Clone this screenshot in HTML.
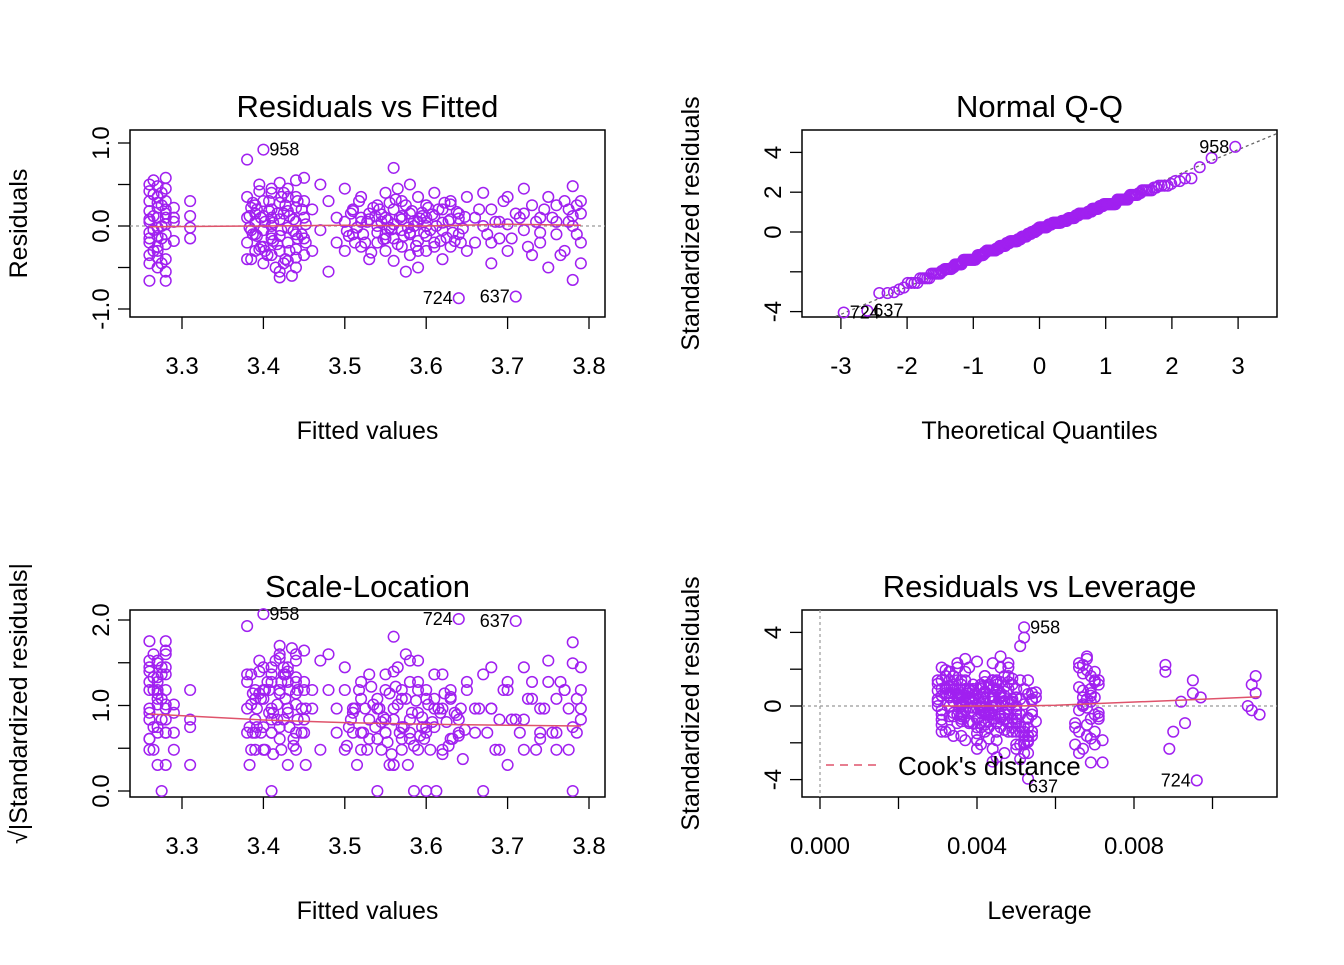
<!DOCTYPE html>
<html><head><meta charset="utf-8"><style>
body{margin:0;background:#fff}
svg text{font-family:"Liberation Sans",Arial,sans-serif;fill:#000}
</style></head><body>
<svg id="c" width="1344" height="960" viewBox="0 0 1344 960" xmlns="http://www.w3.org/2000/svg"></svg>
<script>
// ---- data: clusters of fitted values, residuals, leverage (x1e-4)
const fittedA=[3.26,3.26,3.26,3.26,3.26,3.26,3.26,3.26,3.26,3.26,3.27,3.27,3.27,3.27,3.27,3.27,3.27,3.27,3.27,3.27,3.28,3.28,3.28,3.28,3.28,3.28,3.28,3.28,3.28,3.28];
const residA=[0.5,0.42,0.3,0.18,0.05,-0.08,-0.2,-0.35,-0.45,-0.66,0.48,0.35,0.22,0.1,-0.02,-0.12,-0.25,-0.38,-0.5,0.28,0.58,0.45,0.3,0.15,0.02,-0.1,-0.22,-0.4,-0.55,-0.66];
const levA=[66,68,70,67,69,71,65,68,70,72,67,69,66,70,68,71,65,69,67,70,68,66,71,69,67,70,68,72,66,69];
const fittedA2=[3.265,3.265,3.265,3.265,3.265,3.275,3.275,3.275,3.275,3.275,3.26,3.27,3.28,3.26,3.28];
const residA2=[0.38,0.12,-0.05,-0.3,0.55,0.25,0.0,-0.15,-0.45,0.4,0.08,-0.3,0.2,-0.15,0.1];
const levA2=[67,69,66,70,68,71,67,69,65,70,68,66,69,71,67];
const fittedB=[3.29,3.29,3.29,3.29,3.31,3.31,3.31,3.31];
const residB=[0.22,0.1,-0.18,0.05,0.3,0.12,-0.15,-0.02];
const levB=[33,38,42,47,36,44,50,40];
const fittedC=[3.38,3.38,3.38,3.38,3.38,3.39,3.39,3.39,3.39,3.39,3.40,3.40,3.40,3.40,3.40,3.40,3.41,3.41,3.41,3.41,3.41,3.41,3.42,3.42,3.42,3.42,3.42,3.42,3.42,3.43,3.43,3.43,3.43,3.43,3.43,3.44,3.44,3.44,3.44,3.44,3.44,3.45,3.45,3.45,3.45,3.45,3.425,3.415,3.395,3.385,3.435,3.405];
const residC=[0.35,0.1,-0.2,-0.4,0.8,0.25,0.05,-0.1,-0.3,0.15,0.92,0.3,0.12,-0.05,-0.25,-0.45,0.4,0.2,0.0,-0.15,-0.35,0.1,0.52,0.28,0.08,-0.12,-0.3,-0.55,-0.62,0.35,0.18,-0.02,-0.2,-0.42,0.45,0.55,0.22,0.05,-0.1,-0.28,-0.5,0.58,0.3,0.1,-0.15,-0.35,0.15,-0.5,0.42,-0.05,-0.6,-0.35];
const levC=[32,36,41,45,52,34,39,43,48,54,52,31,37,42,46,50,33,38,44,49,53,35,40,45,30,36,42,47,51,34,39,44,48,53,31,37,43,49,54,33,40,46,35,41,47,52,38,44,32,50,45,36];
const fittedH=[3.383,3.387,3.392,3.397,3.402,3.407,3.412,3.417,3.422,3.427,3.432,3.437,3.442,3.447,3.452,3.385,3.395,3.41,3.425,3.44,3.383,3.387,3.392,3.397,3.402,3.407,3.412,3.417,3.422,3.427,3.432,3.437,3.442,3.447,3.452,3.385,3.395,3.41,3.425,3.44];
const residH=[0.12,-0.1,0.2,-0.25,0.05,0.3,-0.18,0.15,-0.05,0.25,-0.3,0.08,-0.15,0.2,0.02,-0.4,0.5,0.45,-0.45,0.35,-0.02,0.28,-0.12,0.1,-0.3,0.18,0.04,-0.22,0.35,-0.4,0.12,-0.06,0.3,-0.1,-0.2,0.22,-0.28,-0.1,0.4,-0.38];
const levH=[31,35,39,43,47,51,55,33,37,41,45,49,53,32,36,40,44,48,52,34,38,42,46,50,54,30,36,42,48,53,33,39,45,51,35,41,47,31,37,43];
const fittedD=[3.46,3.47,3.47,3.48,3.48,3.49,3.49,3.5,3.5,3.46];
const residD=[0.2,-0.05,0.5,0.3,-0.55,0.1,-0.2,0.45,-0.3,-0.3];
const levD=[34,41,48,37,52,44,39,46,31,50];
const fittedE=[3.51,3.51,3.52,3.52,3.52,3.53,3.53,3.54,3.54,3.54,3.55,3.55,3.55,3.55,3.56,3.56,3.56,3.56,3.56,3.57,3.57,3.57,3.57,3.58,3.58,3.58,3.58,3.59,3.59,3.59,3.59,3.6,3.6,3.6,3.6,3.61,3.61,3.61,3.62,3.62,3.62,3.63,3.63,3.63,3.64,3.64,3.64,3.65,3.65,3.565,3.575,3.545,3.585,3.595,3.555];
const residE=[0.2,-0.1,0.35,0.05,-0.25,0.15,-0.4,0.25,0.0,-0.2,0.4,0.1,-0.1,-0.3,0.7,0.2,0.02,-0.15,-0.42,0.3,0.08,-0.05,-0.25,0.5,0.15,-0.08,-0.35,0.35,0.05,-0.18,-0.5,0.25,0.0,-0.12,-0.3,0.4,0.12,-0.2,0.2,-0.05,-0.4,0.3,0.08,-0.25,-0.87,0.15,-0.1,0.35,-0.3,0.45,-0.55,0.05,0.0,0.12,-0.02];
const levE=[31,36,42,47,53,34,40,45,50,38,33,43,48,54,51,37,41,46,52,30,39,44,49,35,42,47,53,32,38,43,50,36,41,46,52,33,39,45,48,31,37,44,51,40,96,46,35,42,49,38,53,44,36,47,41];
const fittedG=[3.500,3.505,3.510,3.515,3.520,3.525,3.530,3.535,3.540,3.545,3.550,3.555,3.560,3.565,3.570,3.575,3.580,3.585,3.590,3.595,3.600,3.605,3.610,3.615,3.620,3.625,3.630,3.635,3.640,3.645,3.5025,3.5075,3.5125,3.5175,3.5225,3.5275,3.5325,3.5375,3.5425,3.5475,3.5525,3.5575,3.5625,3.5675,3.5725,3.5775,3.5825,3.5875,3.5925,3.5975,3.6025,3.6075,3.6125,3.6175,3.6225,3.6275,3.6325,3.6375,3.6425,3.6475];
const residG=[0.05,-0.12,0.18,-0.02,0.1,-0.2,0.08,0.22,-0.08,0.14,-0.15,0.28,0.02,-0.22,0.12,0.25,-0.1,0.06,-0.3,0.16,0.1,-0.05,-0.25,0.2,0.04,-0.14,0.26,-0.18,0.09,-0.03,-0.06,0.15,-0.2,0.3,-0.1,0.05,-0.32,0.12,0.2,-0.16,0.07,-0.04,0.32,0.1,-0.12,-0.02,0.18,-0.24,0.09,-0.08,0.22,0.14,0.0,-0.18,0.28,0.06,-0.08,0.17,-0.2,0.11];
const levG=[30,34,38,42,46,50,54,32,36,40,44,48,52,31,35,39,43,47,51,55,33,37,41,45,49,53,30,36,42,48,54,32,38,44,50,34,40,46,52,31,37,43,49,55,33,39,45,51,35,41,47,53,30,38,46,54,34,42,50,36];
const fittedF=[3.66,3.66,3.67,3.67,3.68,3.68,3.69,3.69,3.7,3.7,3.71,3.71,3.72,3.72,3.73,3.73,3.74,3.74,3.75,3.75,3.76,3.76,3.77,3.77,3.78,3.78,3.78,3.79,3.79,3.79,3.785,3.775];
const residF=[0.1,-0.2,0.4,0.0,0.2,-0.45,0.05,-0.15,0.35,-0.3,-0.85,0.15,0.45,-0.05,0.25,-0.35,0.1,-0.2,0.35,-0.5,0.05,-0.1,0.3,-0.3,0.48,0.0,-0.65,0.15,-0.2,-0.45,0.25,0.05];
const levF=[38,45,88,33,50,41,92,36,47,90,53,95,35,110,43,54,97,39,111,89,46,112,95,32,88,109,44,111,93,51,110,37];
const fittedF2=[3.665,3.675,3.685,3.695,3.705,3.715,3.725,3.735,3.745,3.755,3.765,3.775,3.785,3.79,3.68,3.7,3.72,3.74,3.76,3.78];
const residF2=[0.2,-0.1,0.05,0.3,-0.15,0.1,-0.25,0.05,0.2,0.1,-0.35,0.2,-0.1,0.3,-0.2,0.02,0.15,-0.08,0.25,0.12];
const levF2=[35,42,48,33,40,46,52,37,44,50,34,41,47,53,38,45,36,43,49,31];
const extremeNames=['958','724','637'];
const resScale=0.215; // residual standard error
// smoother curves
const smooth1X=[3.26,3.4,3.5,3.6,3.7,3.79], smooth1Y=[-0.01,0.0,0.01,0.0,0.02,0.01];
const smooth3X=[3.26,3.4,3.5,3.6,3.7,3.79], smooth3Y=[0.9,0.83,0.8,0.78,0.77,0.76];
const smooth4X=[0.0031,0.004,0.005,0.006,0.007,0.009,0.0112], smooth4Y=[0,0,0,0.04,0.13,0.3,0.5];
const xTicks1=[3.3,3.4,3.5,3.6,3.7,3.8];
const xTicks2=[-3,-2,-1,0,1,2,3];
const xTicks4=[0,0.002,0.004,0.006,0.008,0.010];
const xLabels4=['0.000','','0.004','','0.008',''];

const fitted=[].concat(fittedA,fittedA2,fittedB,fittedC,fittedH,fittedD,fittedE,fittedG,fittedF,fittedF2);
const resid=[].concat(residA,residA2,residB,residC,residH,residD,residE,residG,residF,residF2);
const lev=[].concat(levA,levA2,levB,levC,levH,levD,levE,levG,levF,levF2).map(v=>v/10000);
const std=resid.map(r=>r/resScale);
const n=fitted.length;

const svg=document.getElementById('c');
const NS='http://www.w3.org/2000/svg';
function el(tag,attrs,parent){const e=document.createElementNS(NS,tag);for(const k in attrs)e.setAttribute(k,attrs[k]);(parent||svg).appendChild(e);return e;}
function txt(s,x,y,size,anchor,rot,parent){const t=el('text',{x:x,y:y,'font-size':size,'text-anchor':anchor||'middle'},parent);if(rot)t.setAttribute('transform','rotate(-90 '+x+' '+y+')');t.textContent=s;return t;}
const PURPLE='#A020F0';

const order=[...Array(n).keys()].sort((a,b)=>Math.abs(resid[b])-Math.abs(resid[a]));
const labelOf={};extremeNames.forEach((nm,i)=>labelOf[order[i]]=nm);

function panel(name,box,title,xlab,ylab,xs,ys,yTicks,yLabels,xTicks,xLabels){
  const g=el('g',{});
  
  
  const r=el('rect',{x:box[0],y:box[1],width:box[2]-box[0],height:box[3]-box[1],fill:'none',stroke:'#000','stroke-width':1.5},g);
  
  const t=txt(title,(box[0]+box[2])/2,box[1]-13,31,'middle',false,g);
  
  const xl=txt(xlab,(box[0]+box[2])/2,box[3]+122,25,'middle',false,g);
  
  const yl=txt(ylab,box[0]-103,(box[1]+box[3])/2,25,'middle',true,g);
  
  const ya=el('g',{},g);
  yTicks.forEach((v,i)=>{const p=ys(v);el('line',{x1:box[0],x2:box[0]-12,y1:p,y2:p,stroke:'#000','stroke-width':1.3},ya);
    if(yLabels[i]){const tl=txt(yLabels[i],box[0]-21,p,24,'middle',true,ya);}});
  const xa=el('g',{},g);
  xTicks.forEach((v,i)=>{const p=xs(v);el('line',{x1:p,x2:p,y1:box[3],y2:box[3]+12,stroke:'#000','stroke-width':1.3},xa);
    if(xLabels[i]){const tl=txt(xLabels[i],p,box[3]+57,24,'middle',false,xa);}});
  return g;
}
function points(g,X,Y,xs,ys,name){
  const pg=el('g',{},g);
  X.forEach((v,i)=>{const c=el('circle',{cx:xs(v),cy:ys(Y[i]),r:5.3,fill:'none',stroke:PURPLE,'stroke-width':1.5},pg);
    });
}
function labels(g,X,Y,xs,ys,mid,idxs){
  idxs.forEach(i=>{const px=xs(X[i]),py=ys(Y[i]);const right=px<mid;
    const t=txt(labelOf[i],right?px+6:px-6,py+6,18,right?'start':'end',false,g);
    });
}
function curve(g,X,Y,xs,ys,name,color,dash){
  const d=X.map((v,i)=>(i?'L':'M')+xs(v).toFixed(1)+','+ys(Y[i]).toFixed(1)).join(' ');
  const p=el('path',{d:d,fill:'none',stroke:color,'stroke-width':1.5},g);
  if(dash)p.setAttribute('stroke-dasharray',dash);
  
}
const extremeIdx=order.slice(0,3);

// Panel 1
{const box=[130,130,605,317];const xs=v=>182+(v-3.3)*814,ys=v=>226-v*83;
 const g=panel('residuals-vs-fitted',box,'Residuals vs Fitted','Fitted values','Residuals',xs,ys,[1,0.5,0,-0.5,-1],['1.0','','0.0','','-1.0'],xTicks1,xTicks1.map(v=>v.toFixed(1)));
 const z=el('line',{x1:box[0],x2:box[2],y1:ys(0),y2:ys(0),stroke:'#999','stroke-dasharray':'3,3','stroke-width':1.2},g);
 
 points(g,fitted,resid,xs,ys,'residual-points');
 curve(g,smooth1X,smooth1Y,xs,ys,'smoother-line','#DF536B');
 labels(g,fitted,resid,xs,ys,300,extremeIdx);}

// Panel 2 QQ
function erf(x){const s=x<0?-1:1;x=Math.abs(x);const t=1/(1+0.3275911*x);const y=1-(((((1.061405429*t-1.453152027)*t)+1.421413741)*t-0.284496736)*t+0.254829592)*t*Math.exp(-x*x);return s*y;}
function pnorm(z){return 0.5*(1+erf(z/Math.SQRT2));}
function qnorm(p){let lo=-8,hi=8;for(let k=0;k<60;k++){const m=(lo+hi)/2;if(pnorm(m)<p)lo=m;else hi=m;}return (lo+hi)/2;}
{const box=[802,130,1277,317];const xs=v=>1039.5+v*66.2,ys=v=>232-v*19.9;
 const g=panel('normal-qq',box,'Normal Q-Q','Theoretical Quantiles','Standardized residuals',xs,ys,[4,2,0,-2,-4],['4','2','0','','-4'],xTicks2,xTicks2.map(String));
 const idx=[...Array(n).keys()].sort((a,b)=>std[a]-std[b]);
 const q=idx.map((_,k)=>qnorm((k+0.5)/n));const sv=idx.map(i=>std[i]);
 const q1=sv[Math.floor(0.25*n)],q3=sv[Math.floor(0.75*n)],z1=qnorm(0.25),z3=qnorm(0.75);
 const sl=(q3-q1)/(z3-z1),ic=q1-sl*z1;
 const clip=el('clipPath',{id:'qqclip'},g);el('rect',{x:box[0],y:box[1],width:box[2]-box[0],height:box[3]-box[1]},clip);
 const ln=el('line',{x1:xs(-4),y1:ys(ic-4*sl),x2:xs(4),y2:ys(ic+4*sl),stroke:'#666','stroke-dasharray':'3,3','stroke-width':1.3,'clip-path':'url(#qqclip)'},g);
 
 points(g,q,sv,xs,ys,'qq-points');
 const pos={};idx.forEach((i,k)=>pos[i]=k);
 extremeIdx.forEach(i=>{const k=pos[i];const px=xs(q[k]),py=ys(sv[k]);const right=px<1040;
   const t=txt(labelOf[i],right?px+6:px-6,py+6,18,right?'start':'end',false,g);
   });}

// Panel 3 Scale-Location
{const box=[130,610,605,797];const xs=v=>182+(v-3.3)*814,ys=v=>791-v*85.5;
 const g=panel('scale-location',box,'Scale-Location','Fitted values','√|Standardized residuals|',xs,ys,[2,1.5,1,0.5,0],['2.0','','1.0','','0.0'],xTicks1,xTicks1.map(v=>v.toFixed(1)));
 const sq=std.map(s=>Math.sqrt(Math.abs(s)));
 points(g,fitted,sq,xs,ys,'scale-points');
 curve(g,smooth3X,smooth3Y,xs,ys,'smoother-line','#DF536B');
 labels(g,fitted,sq,xs,ys,300,extremeIdx);}

// Panel 4 Residuals vs Leverage
{const box=[802,610,1277,797];const xs=v=>820+v*39250,ys=v=>706-v*18.4;
 const g=panel('residuals-vs-leverage',box,'Residuals vs Leverage','Leverage','Standardized residuals',xs,ys,[4,2,0,-2,-4],['4','','0','','-4'],xTicks4,xLabels4);
 const v=el('line',{x1:xs(0),x2:xs(0),y1:box[1],y2:box[3],stroke:'#999','stroke-dasharray':'3,3','stroke-width':1.2},g);
 
 const h=el('line',{x1:box[0],x2:box[2],y1:ys(0),y2:ys(0),stroke:'#999','stroke-dasharray':'3,3','stroke-width':1.2},g);
 
 points(g,lev,std,xs,ys,'leverage-points');
 curve(g,smooth4X,smooth4Y,xs,ys,'smoother-line','#DF536B');
 extremeIdx.forEach(i=>{const px=xs(lev[i]),py=ys(std[i]);let x=px+6,y=py+6,a='start';
   if(labelOf[i]==='724'){x=px-6;a='end';} if(labelOf[i]==='637'){x=px;y=py+14;a='start';}
   const t=txt(labelOf[i],x,y,18,a,false,g);});
 const lg=el('g',{},g);
 const ll=el('line',{x1:826,x2:876,y1:765,y2:765,stroke:'#DF536B','stroke-dasharray':'8,6','stroke-width':1.5},lg);
 
 const lt=txt("Cook's distance",898,775,26,'start',false,lg);
 }
</script>
</body></html>
